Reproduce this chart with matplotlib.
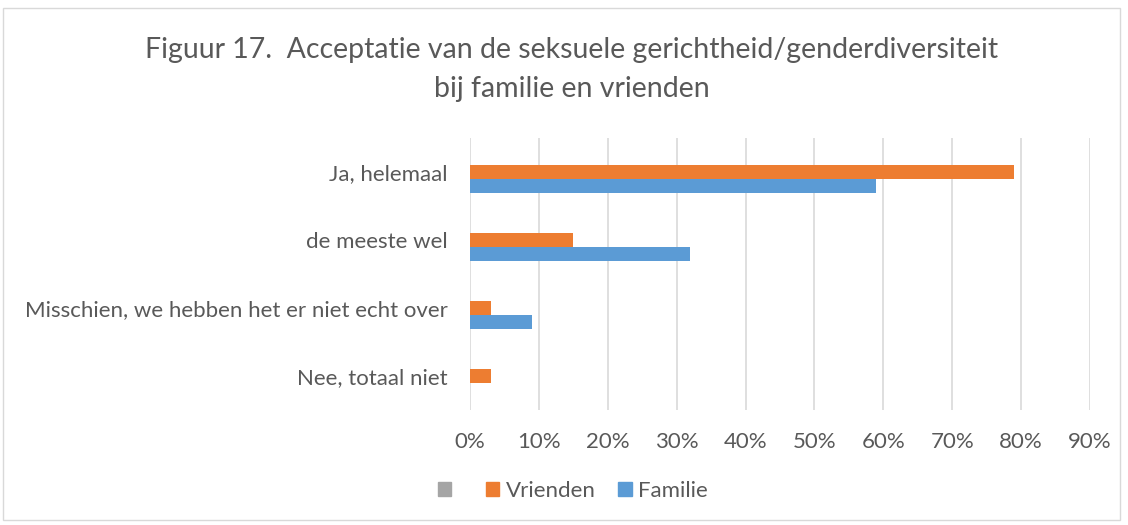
import numpy as np
import matplotlib
matplotlib.use('Agg')
import matplotlib.pyplot as plt
from matplotlib.patches import Patch, Rectangle

categories = ["Ja, helemaal", "de meeste wel",
              "Misschien, we hebben het er niet echt over", "Nee, totaal niet"]
vrienden = [79, 15, 3, 3]
familie = [59, 32, 9, 0]
xticks = [0, 10, 20, 30, 40, 50, 60, 70, 80, 90]

plt.rcParams['font.family'] = ['Lato', 'DejaVu Sans']
txt = '#595959'

fig = plt.figure(figsize=(11.28, 5.25), dpi=100)
fig.patches.append(Rectangle((0.003, 0.01), 0.99, 0.975, transform=fig.transFigure,
                             fill=False, edgecolor='#D9D9D9', lw=1))
ax = fig.add_axes([0.4167, 0.219, 0.5496, 0.518])

y = np.arange(len(categories))
h = 0.205
ax.barh(y, vrienden, height=h, color='#ED7D31', zorder=3)
ax.barh(y + h, familie, height=h, color='#5B9BD5', zorder=3)

ax.set_xlim(0, 90)
ax.set_ylim(3.5, -0.5)
ax.set_xticks(xticks)
ax.set_xticklabels([f"{v}%" for v in xticks])
ax.set_yticks(y)
ax.set_yticklabels(categories)
ax.tick_params(length=0, labelsize=16, colors=txt)
ax.tick_params(axis='x', pad=16)
ax.tick_params(axis='y', pad=16)
ax.grid(axis='x', color='#D9D9D9', lw=1.2, zorder=0)
for s in ax.spines.values():
    s.set_visible(False)

fig.text(0.507, 0.905, "Figuur 17.  Acceptatie van de seksuele gerichtheid/genderdiversiteit",
         ha='center', va='center', fontsize=20.5, color=txt)
fig.text(0.507, 0.83, "bij familie en vrienden", ha='center', va='center',
         fontsize=20.5, color=txt)

handles = [Patch(color='#A5A5A5', label=' '), Patch(color='#ED7D31', label='Vrienden'),
           Patch(color='#5B9BD5', label='Familie')]
fig.legend(handles=handles, loc='center', bbox_to_anchor=(0.508, 0.065), ncol=3,
           frameon=False, fontsize=16, labelcolor=txt, handlelength=0.6,
           handleheight=0.6, handletextpad=0.3, columnspacing=1.0)

fig.savefig('out.png', dpi=100)
